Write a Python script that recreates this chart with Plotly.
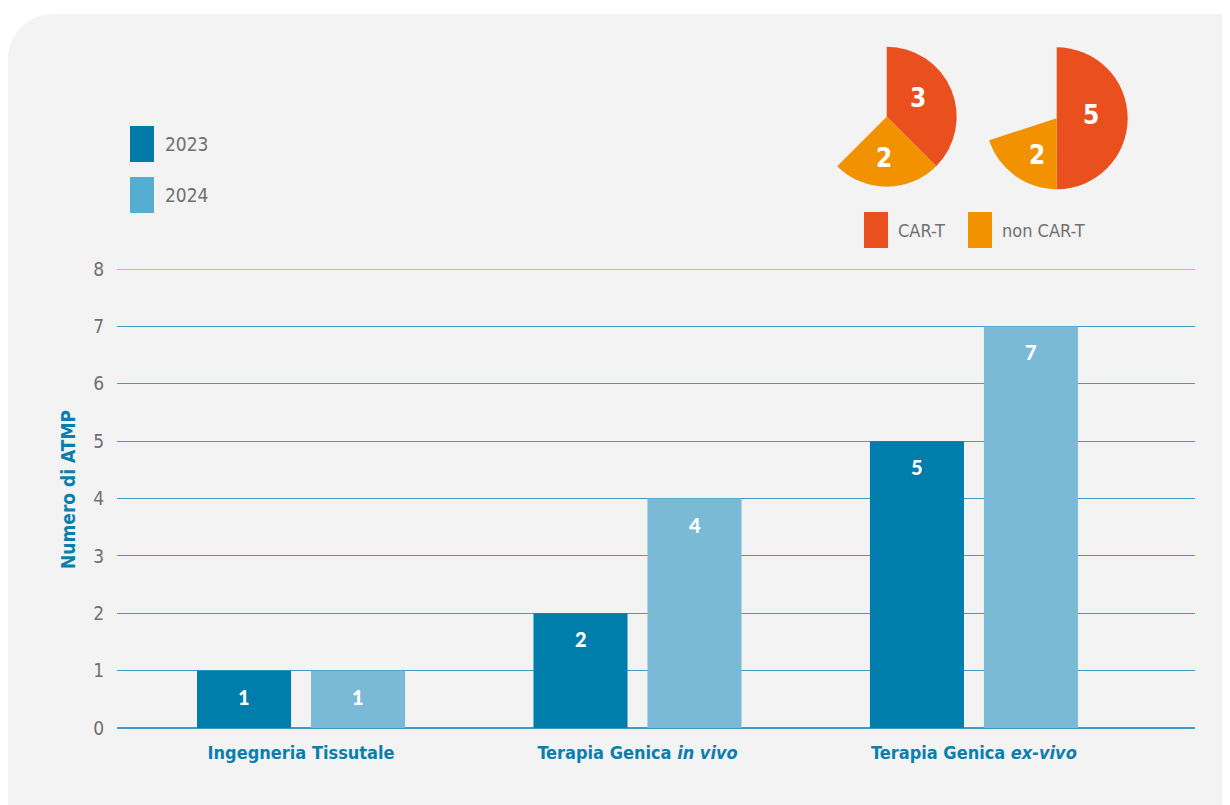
import plotly.graph_objects as go

# ---------------- data ----------------
categories = ["Ingegneria Tissutale", "Terapia Genica <i>in vivo</i>", "Terapia Genica <i>ex-vivo</i>"]
series_names = ["2023", "2024"]
values_2023 = [1, 2, 5]
values_2024 = [1, 4, 7]
y_ticks = [0, 1, 2, 3, 4, 5, 6, 7, 8]
y_title = "Numero di ATMP"

pie_labels = ["CAR-T", "non CAR-T", ""]
pie_a = [3, 2, 3]   # last slice = empty gap (not drawn)
pie_b = [5, 2, 3]   # last slice = empty gap (not drawn)

# ---------------- style ----------------
W, H = 1230, 805
OFF = 8  # page body margin: figure starts at (8, 8) on screen
C2023 = "#007dab"
C2024 = "#7bbad6"
L2023 = "#007ba7"
L2024 = "#55aed1"
RED = "#e9501e"
ORANGE = "#f39200"
BLUE_TXT = "#0a7fae"
GRAY_TXT = "#707070"
GRID = "#3f9dc7"
COND = "DejaVu Sans Condensed, Liberation Sans Narrow, Open Sans, sans-serif"
HEAVY = "Lato, Inter, sans-serif"


def fx(sx):
    return (sx - OFF) / W


def fy(sy):
    return 1 - (sy - OFF) / H


fig = go.Figure()

fig.add_trace(go.Bar(x=categories, y=values_2023, name=series_names[0],
                     marker=dict(color=C2023, line=dict(width=0)), hoverinfo="skip"))
fig.add_trace(go.Bar(x=categories, y=values_2024, name=series_names[1],
                     marker=dict(color=C2024, line=dict(width=0)), hoverinfo="skip"))

# pies
k = 0.5523
for vals, (cx, cy, r) in [(pie_a, (886.7, 116.7, 70)), (pie_b, (1056.7, 118.3, 71))]:
    fig.add_trace(go.Pie(
        values=vals, labels=pie_labels, sort=False, direction="clockwise", rotation=0,
        marker=dict(colors=[RED, ORANGE, "rgba(0,0,0,0)"], line=dict(width=0)),
        textinfo="none", hoverinfo="skip", showlegend=False,
        domain=dict(x=[fx(cx - r), fx(cx + r)], y=[fy(cy + r), fy(cy - r)]),
    ))

# background rounded panel
x0, y0, x1, y1, rr = 8, 14, 1240, 815, 45
path = (f"M {fx(x0)},{fy(y1)} L {fx(x0)},{fy(y0 + rr)} "
        f"C {fx(x0)},{fy(y0 + rr - rr * k)} {fx(x0 + rr - rr * k)},{fy(y0)} {fx(x0 + rr)},{fy(y0)} "
        f"L {fx(x1)},{fy(y0)} L {fx(x1)},{fy(y1)} Z")
shapes = [dict(type="path", path=path, xref="paper", yref="paper",
               fillcolor="#f3f3f3", line=dict(width=0), layer="below")]

# top gridline (at the edge of the plot area)
shapes.append(dict(type="line", xref="x domain", yref="y", x0=0, x1=1,
                   y0=y_ticks[-1], y1=y_ticks[-1], line=dict(color=GRID, width=1), layer="below"))

annotations = []

# bar value labels
slot = 57
for vals, shift in [(values_2023, -slot), (values_2024, slot)]:
    for c, v in zip(categories, vals):
        annotations.append(dict(x=c, y=v, xref="x", yref="y", text=str(v), showarrow=False,
                                xanchor="center", yanchor="middle",
                                xshift=shift, yshift=-26,
                                font=dict(family=HEAVY, size=20, color="white", weight=900)))

# pie value labels
pie_text_pos = [((917.7, 98.3), pie_a[0]), ((884.3, 158.3), pie_a[1]),
                ((1090.7, 115.0), pie_b[0]), ((1036.7, 155.0), pie_b[1])]
for (px, py), v in pie_text_pos:
    annotations.append(dict(x=fx(px), y=fy(py), xref="paper", yref="paper", text=str(v),
                            showarrow=False, xanchor="center", yanchor="middle",
                            font=dict(family=COND, size=26, color="white", weight=700)))

# bar legend
for (name, col, top) in [(series_names[0], L2023, 126), (series_names[1], L2024, 177)]:
    shapes.append(dict(type="rect", xref="paper", yref="paper",
                       x0=fx(130), x1=fx(154), y0=fy(top + 36), y1=fy(top),
                       fillcolor=col, line=dict(width=0)))
    annotations.append(dict(x=fx(163), y=fy(top + 18), xref="paper", yref="paper", text=name,
                            showarrow=False, xanchor="left", yanchor="middle",
                            font=dict(family=COND, size=19, color=GRAY_TXT)))

# pie legend
for (name, col, left) in [(pie_labels[0], RED, 864), (pie_labels[1], ORANGE, 968)]:
    shapes.append(dict(type="rect", xref="paper", yref="paper",
                       x0=fx(left), x1=fx(left + 24), y0=fy(248), y1=fy(212),
                       fillcolor=col, line=dict(width=0)))
    annotations.append(dict(x=fx(left + 32), y=fy(230), xref="paper", yref="paper", text=name,
                            showarrow=False, xanchor="left", yanchor="middle",
                            font=dict(family=COND, size=18, color=GRAY_TXT)))

# y axis title
annotations.append(dict(x=fx(68), y=fy(490), xref="paper", yref="paper", text=y_title,
                        showarrow=False, textangle=-90, xanchor="center", yanchor="middle",
                        font=dict(family=COND, size=19, color=BLUE_TXT, weight=700)))

fig.update_layout(
    width=W, height=H,
    margin=dict(l=0, r=0, t=0, b=0, pad=0),
    paper_bgcolor="white", plot_bgcolor="rgba(0,0,0,0)",
    barmode="group", bargap=0.3224, bargroupgap=0.175,
    showlegend=False,
    shapes=shapes, annotations=annotations,
    xaxis=dict(domain=[fx(117), fx(1195)], range=[-0.547, 2.657], type="category",
               automargin=False,
               showgrid=False, zeroline=False, showline=False, ticks="",
               ticklabelstandoff=12,
               tickfont=dict(family=COND, size=18, color=BLUE_TXT, weight=700)),
    yaxis=dict(domain=[fy(728), fy(269)], range=[0, 8], tickvals=y_ticks,
               automargin=False,
               showgrid=True, gridcolor=GRID, gridwidth=1,
               zeroline=True, zerolinecolor=GRID, zerolinewidth=2,
               showline=False, ticks="", ticklabelstandoff=12,
               tickfont=dict(family=COND, size=19, color=GRAY_TXT)),
)

fig.write_html("out.html")
